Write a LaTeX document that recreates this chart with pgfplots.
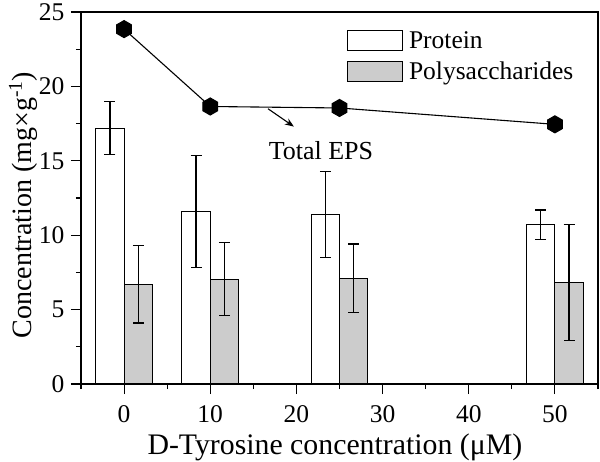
\documentclass[border=0pt]{standalone}
\usepackage{fontspec}
\setmainfont{Liberation Serif}
\usepackage{pgfplots}
\pgfplotsset{compat=1.18}
\usetikzlibrary{arrows.meta}

\pgfdeclareplotmark{hexagon}{%
  \pgfpathmoveto{\pgfqpointpolar{90}{\pgfplotmarksize}}%
  \pgfpathlineto{\pgfqpointpolar{150}{\pgfplotmarksize}}%
  \pgfpathlineto{\pgfqpointpolar{210}{\pgfplotmarksize}}%
  \pgfpathlineto{\pgfqpointpolar{270}{\pgfplotmarksize}}%
  \pgfpathlineto{\pgfqpointpolar{330}{\pgfplotmarksize}}%
  \pgfpathlineto{\pgfqpointpolar{30}{\pgfplotmarksize}}%
  \pgfpathclose
  \pgfusepathqfillstroke}

\begin{document}
\begin{tikzpicture}
\begin{axis}[
  width=517pt, height=372pt,
  scale only axis,
  xmin=-5, xmax=55,
  ymin=0, ymax=25,
  xtick={0,10,...,50},
  minor xtick={-5,5,...,55},
  ytick={0,5,...,25},
  minor ytick={2.5,7.5,...,22.5},
  tick align=outside,
  xtick pos=bottom, ytick pos=left,
  major tick length=10pt, minor tick length=5pt,
  tick style={black, line width=1.1pt},
  axis line style={line width=1.4pt},
  ticklabel style={font=\fontsize{25.5}{25.5}\selectfont},
  yticklabel style={xshift=-3pt},
  xticklabel style={yshift=-8pt},
  /pgf/number format/assume math mode=true,
  xlabel={D-Tyrosine concentration (μM)},
  ylabel={Concentration (mg×g\textsuperscript{-1})},
  xlabel style={font=\fontsize{29.8}{29.8}\selectfont,
    at={(axis description cs:0.491,-0.189)}, anchor=base},
  ylabel style={font=\fontsize{28}{28}\selectfont,
    at={(axis description cs:-0.0967,0.481)}, anchor=base},
  ybar, bar width=3.3,
  legend style={at={(0.514,0.953)}, anchor=north west, draw=none,
    fill=none, font=\fontsize{25.5}{25.5}\selectfont,
    row sep=8pt, inner sep=0pt},
  legend cell align=left,
  legend image code/.code={\draw[#1, line width=1.1pt] (0pt,-10pt) rectangle (55pt,10pt);
    \path (59pt,0pt);},
  error bars/error bar style={line width=1.3pt, black},
  error bars/error mark options={rotate=90, mark size=5.5pt, line width=1.3pt, black},
]
\addplot[draw=black, fill=white, line width=1.1pt, bar shift=-1.65,
  error bars/.cd, y dir=both, y explicit]
  coordinates {(0,17.2) +- (0,1.8) (10,11.6) +- (0,3.75) (25,11.4) +- (0,2.9) (50,10.7) +- (0,1.0)};
\addlegendentry{Protein}
\addplot[draw=black, fill=black!20, line width=1.1pt, bar shift=1.65,
  error bars/.cd, y dir=both, y explicit]
  coordinates {(0,6.7) +- (0,2.6) (10,7.05) +- (0,2.45) (25,7.1) +- (0,2.3) (50,6.8) +- (0,3.9)};
\addlegendentry{Polysaccharides}
\addplot[sharp plot, black, line width=1.1pt, mark=hexagon, mark size=8.5pt,
  mark options={fill=black}, forget plot]
  coordinates {(0,23.85) (10,18.65) (25,18.55) (50,17.45)};
\draw[-{Stealth[length=9pt,width=7pt]}, line width=1.1pt] (axis cs:16.7,18.5) -- (axis cs:19.7,17.3);
\node[font=\fontsize{26}{26}\selectfont, anchor=base] at (axis cs:22.85,15.1) {Total EPS};
\end{axis}
\pgfresetboundingbox
\useasboundingbox (-81pt,-77pt) rectangle (519pt,384pt);
\end{tikzpicture}
\end{document}
